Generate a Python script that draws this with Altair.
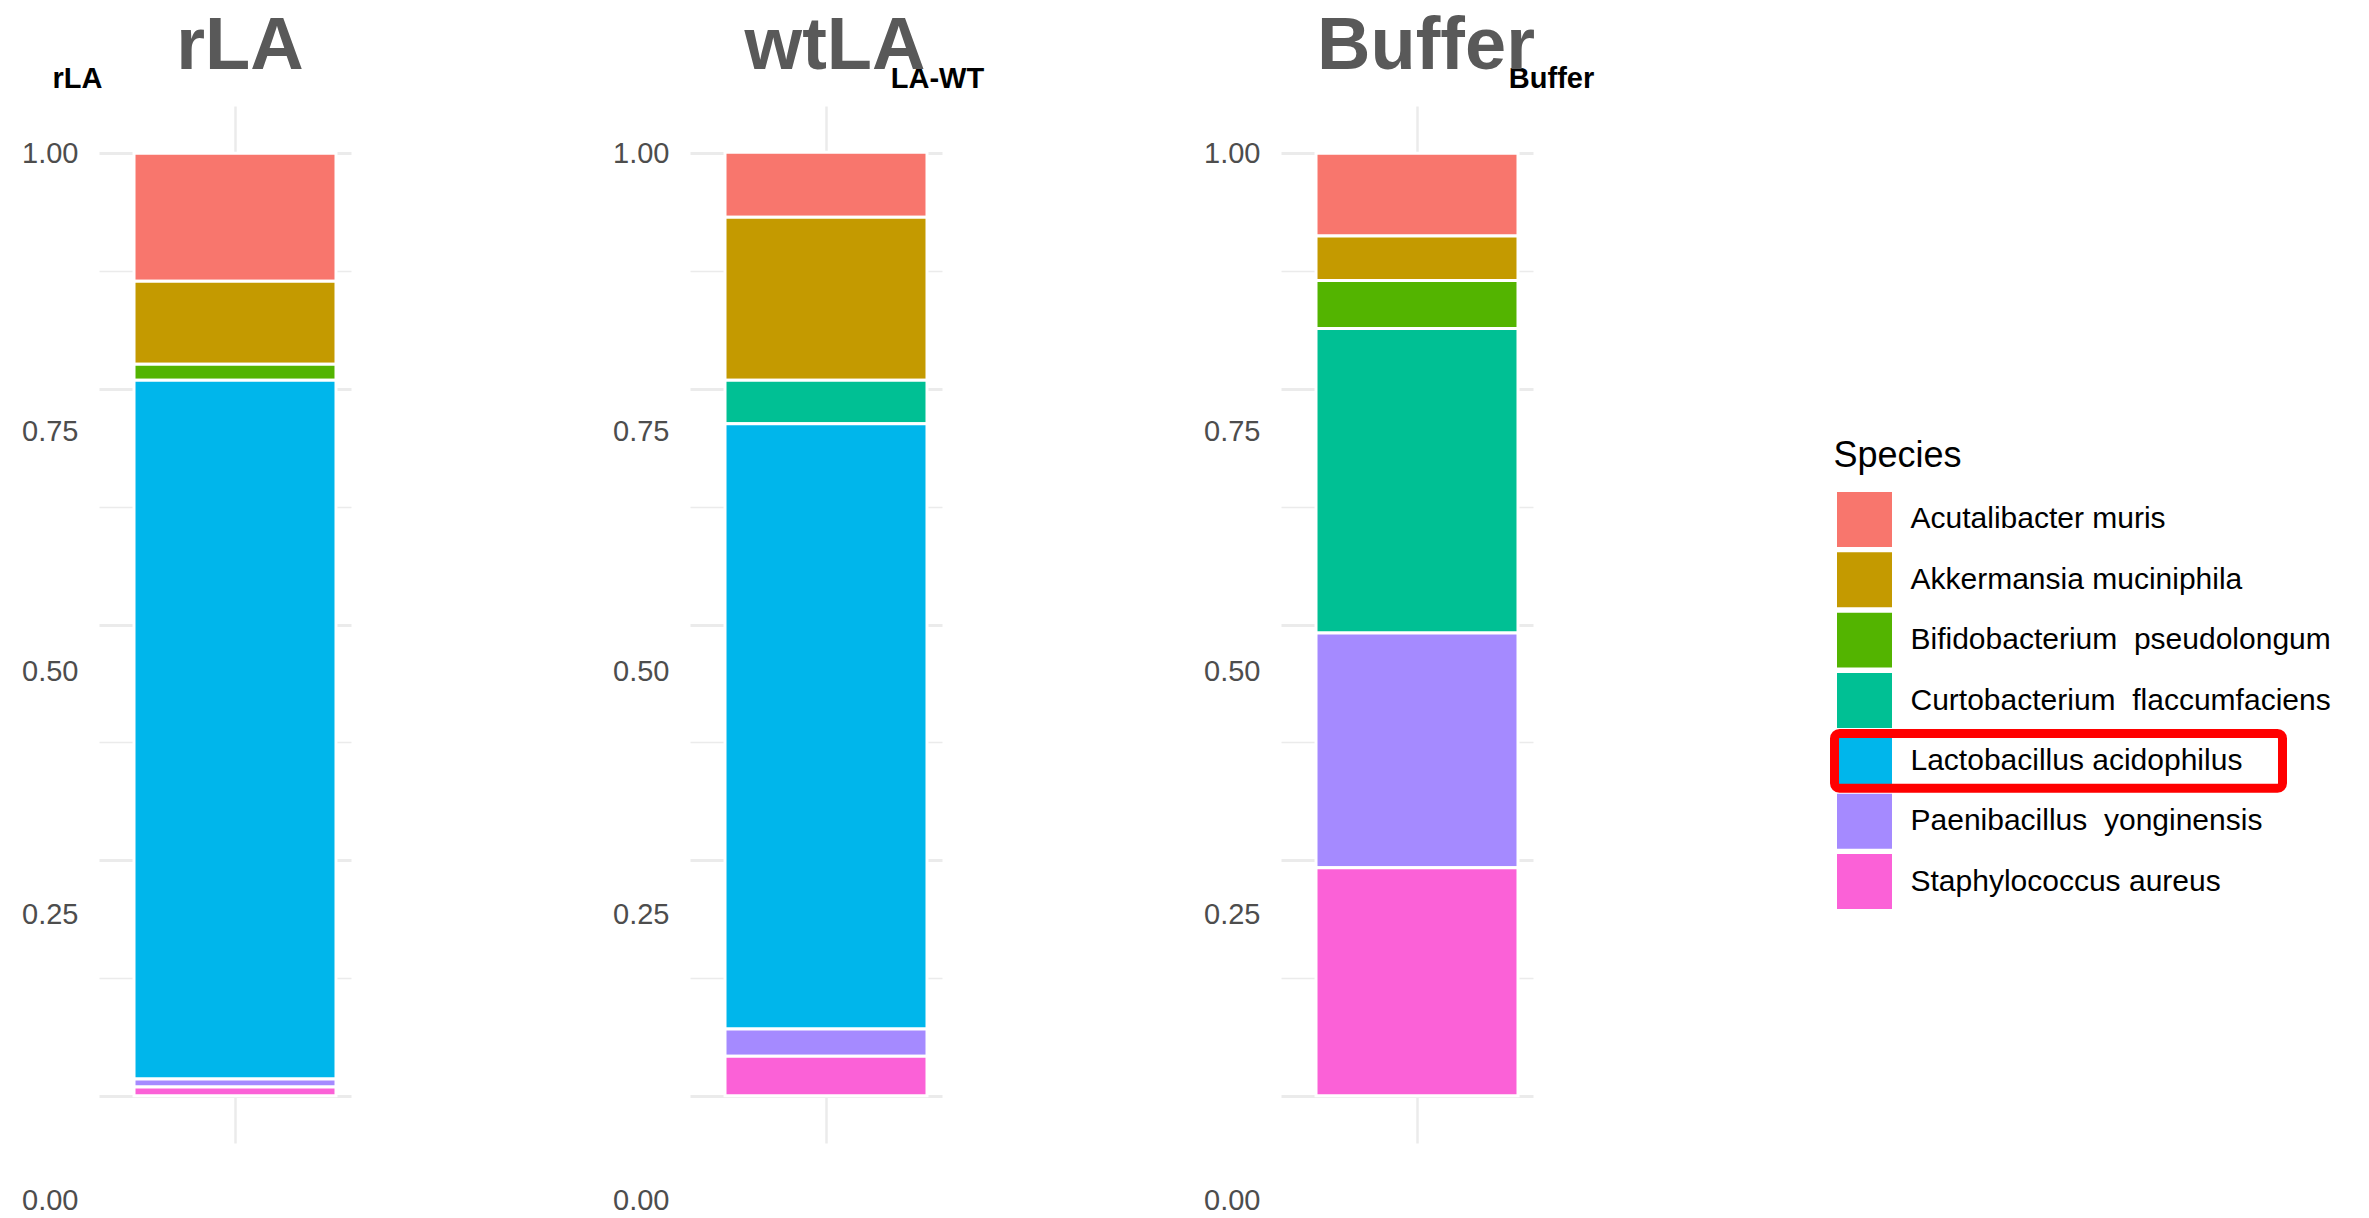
import altair as alt
import pandas as pd

# ---------------- data ----------------
SAMPLES = ["rLA", "wtLA", "Buffer"]
SUBTITLES = ["rLA", "LA-WT", "Buffer"]
SPECIES = [
    "Acutalibacter muris",
    "Akkermansia muciniphila",
    "Bifidobacterium\u00a0 pseudolongum",
    "Curtobacterium\u00a0 flaccumfaciens",
    "Lactobacillus acidophilus",
    "Paenibacillus\u00a0 yonginensis",
    "Staphylococcus aureus",
]
COLORS = ["#F8766D", "#C49A00", "#53B400", "#00C094", "#00B6EB", "#A58AFF", "#FB61D7"]
ABUND_RLA = [0.136, 0.088, 0.017, 0.0, 0.741, 0.0085, 0.0095]
ABUND_WTLA = [0.069, 0.173, 0.0, 0.046, 0.642, 0.029, 0.042]
ABUND_BUFFER = [0.088, 0.047, 0.051, 0.323, 0.0, 0.249, 0.242]
Y_TICKS = [0, 0.125, 0.25, 0.375, 0.5, 0.625, 0.75, 0.875, 1.0]
HIGHLIGHT = "Lactobacillus acidophilus"

abund = {"rLA": ABUND_RLA, "wtLA": ABUND_WTLA, "Buffer": ABUND_BUFFER}
rows = []
for s in SAMPLES:
    for i, sp in enumerate(SPECIES):
        rows.append({"sample": s, "species": sp, "idx": i, "value": abund[s][i]})
df = pd.DataFrame(rows)
leg_df = pd.DataFrame({"species": SPECIES, "idx": list(range(len(SPECIES)))})

FONT = "Liberation Sans"
color_scale = alt.Scale(domain=SPECIES, range=COLORS)

PW, PH = 252, 1037
SUB_X = [-22, 247, 270]
TITLE_DX = [15, 19, 19]

label_offset = {
    "condition": [
        {"test": "datum.value == 0.75", "value": 43},
        {"test": "datum.value == 0.5", "value": 47},
        {"test": "datum.value == 0.25", "value": 54},
        {"test": "datum.value == 0", "value": 105},
    ],
    "value": 0,
}
grid_width = {"condition": {"test": "datum.value % 0.25 == 0", "value": 3}, "value": 1.5}

panels = []
for k, s in enumerate(SAMPLES):
    p = (
        alt.Chart(df)
        .transform_filter(alt.datum.sample == s)
        .transform_filter(alt.datum.value > 0)
        .mark_bar(stroke="white", strokeWidth=3)
        .encode(
            x=alt.X(
                "sample:N",
                scale=alt.Scale(paddingInner=0, paddingOuter=0.1238, align=0.7),
                axis=alt.Axis(
                    title=None, labels=False, ticks=False, domain=False,
                    grid=True, gridColor="#EBEBEB", gridWidth=2.5,
                ),
            ),
            y=alt.Y(
                "value:Q",
                stack="zero",
                scale=alt.Scale(domain=[-0.05, 1.05], nice=False, zero=False),
                axis=alt.Axis(
                    values=Y_TICKS,
                    labelExpr="datum.value % 0.25 == 0 ? format(datum.value, '.2f') : ''",
                    grid=True, gridColor="#EBEBEB", gridWidth=grid_width,
                    ticks=False, domain=False,
                    labelFont=FONT, labelFontSize=29, labelColor="#4D4D4D",
                    labelPadding=21, labelOffset=label_offset,
                    labelOverlap=False, labelFlush=False, labelBaseline="middle",
                    title=SUBTITLES[k], titleAngle=0, titleX=SUB_X[k], titleY=-19,
                    titleAlign="center", titleBaseline="alphabetic",
                    titleFont=FONT, titleFontSize=29, titleFontWeight="bold",
                    titleColor="black",
                ),
            ),
            color=alt.Color("species:N", scale=color_scale, legend=None),
            order=alt.Order("idx:Q", sort="descending"),
        )
        .properties(
            width=PW,
            height=PH,
            title=alt.TitleParams(
                s, fontSize=74, fontWeight="bold", color="#595959", font=FONT,
                anchor="middle", frame="group", baseline="alphabetic",
                offset=40, dx=TITLE_DX[k], dy=119,
            ),
        )
    )
    panels.append(p)

# ---------------- legend panel ----------------
ybase = alt.Y(
    "species:N",
    sort=SPECIES,
    scale=alt.Scale(paddingInner=0.09, paddingOuter=0, range=[386, 803]),
    axis=alt.Axis(
        title="Species", labels=False, ticks=False, domain=False, grid=False,
        titleAngle=0, titleX=-39, titleY=360, titleAlign="left",
        titleBaseline="alphabetic", titleFont=FONT, titleFontSize=36,
        titleFontWeight="normal", titleColor="black",
    ),
)
yplain = alt.Y("species:N", sort=SPECIES)

swatch = alt.Chart(leg_df).mark_rect().encode(
    x=alt.value(-35), x2=alt.value(20), y=ybase,
    color=alt.Color("species:N", scale=color_scale, legend=None),
)
labels = alt.Chart(leg_df).mark_text(
    align="left", baseline="middle", font=FONT, fontSize=30, color="black"
).encode(x=alt.value(38.5), y=yplain, text="species:N")
box = (
    alt.Chart(leg_df)
    .transform_filter(alt.datum.species == HIGHLIGHT)
    .mark_rect(fillOpacity=0, stroke="#FF0000", strokeWidth=9, cornerRadius=5)
    .encode(x=alt.value(-37.5), x2=alt.value(410.5), y=yplain)
)
legend_panel = alt.layer(swatch, labels, box).properties(width=400, height=PH)

chart = (
    alt.hconcat(*panels, legend_panel, spacing=339, bounds="flush")
    .properties(
        padding={"left": 13, "top": 2, "right": 5, "bottom": 5},
        background="white",
    )
    .configure_view(stroke=None)
)

chart.save("out.html", embed_options={"renderer": "svg", "actions": False})
